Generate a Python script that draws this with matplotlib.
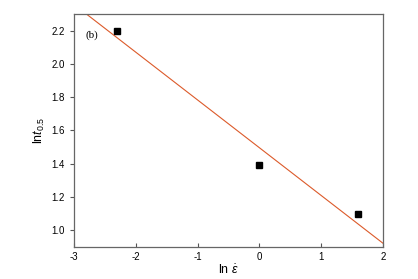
import matplotlib.pyplot as plt
import numpy as np

plt.rcParams['font.family'] = ['Liberation Sans', 'DejaVu Sans']
plt.rcParams['axes.unicode_minus'] = False
plt.rcParams['mathtext.fontset'] = 'custom'
plt.rcParams['mathtext.rm'] = 'Liberation Sans'
plt.rcParams['mathtext.it'] = 'Liberation Sans:italic'

ln_rate = [-2.3, 0.0, 1.6]
ln_t05 = [2.2, 1.39, 1.1]
xticks = [-3, -2, -1, 0, 1, 2]
yticks = [1.0, 1.2, 1.4, 1.6, 1.8, 2.0, 2.2]

fig = plt.figure(figsize=(4.18, 2.79), dpi=100)
ax = fig.add_axes([0.177, 0.115, 0.739, 0.835])

# linear fit through the three points
k, b = np.polyfit(ln_rate, ln_t05, 1)
xl = np.array([-3, 2])
ax.plot(xl, k * xl + b, color='#dc5a2a', lw=0.8)
ax.plot(ln_rate, ln_t05, 's', color='black', ms=4.5)

ax.set_xlim(-3, 2)
ax.set_ylim(0.9, 2.3)
ax.set_xticks(xticks)
ax.set_yticks(yticks)
ax.set_yticklabels(['%.1f' % v for v in yticks])
ax.tick_params(axis='x', direction='in', labelsize=7, length=3, width=0.8, colors='#555555', labelcolor='black')
ax.tick_params(axis='y', direction='out', labelsize=7, length=3, width=0.8, colors='#555555', labelcolor='black')
for s in ax.spines.values():
    s.set_color('#666666')
    s.set_linewidth(0.9)

ax.text(-2.81, 2.17, '(b)', fontsize=8, family='Liberation Serif', va='center')
ax.set_xlabel(r'ln $\dot{\varepsilon}$', fontsize=9, labelpad=1)
ax.set_ylabel(r'ln$\mathit{t}_{0.5}$', fontsize=9, labelpad=3)

plt.savefig('out.png', dpi=100)
